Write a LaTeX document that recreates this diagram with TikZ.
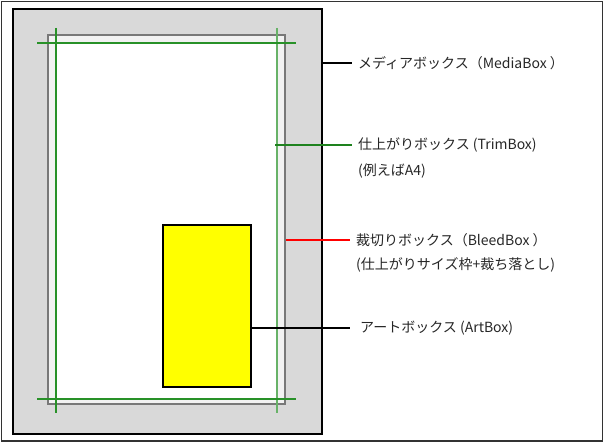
\documentclass[tikz,border=0pt]{standalone}
\usepackage{fontspec}
\setmainfont{Noto Sans CJK JP}
\definecolor{mediagray}{RGB}{217,217,217}
\definecolor{bleedfill}{RGB}{242,242,242}
\definecolor{bleedline}{RGB}{120,120,120}
\definecolor{trimgreen}{RGB}{40,145,40}
\definecolor{leadgreen}{RGB}{30,130,30}
\definecolor{artyellow}{RGB}{255,255,0}
\definecolor{bleedred}{RGB}{255,0,0}
\tikzset{
  lbl/.style={anchor=west, inner sep=0pt, font=\fontsize{14}{16}\selectfont, text=black!85},
  trimline/.style={draw=trimgreen, line width=1.3pt},
  leader/.style={line width=1.1pt}
}
\begin{document}
\begin{tikzpicture}[x=1pt,y=-1pt]
\useasboundingbox (0,0) rectangle (604,443);
% outer frame
\draw[line width=1.3pt, draw=black!80] (1.5,1.5) rectangle (602.5,441);
% MediaBox
\draw[fill=mediagray, line width=2pt, draw=black] (13,9) rectangle (322,434);
\coordinate (mediaR) at (322,63);
% BleedBox
\draw[fill=bleedfill, draw=bleedline, line width=1.6pt] (48,35) rectangle (285,404);
\coordinate (bleedR) at (286,240);
% TrimBox white area
\fill[white] (56,43) rectangle (277,399);
% trim lines
\draw[trimline] (56,28) -- (56,413);
\draw[trimline, draw=trimgreen!70] (277,28) -- (277,413);
\draw[trimline] (37,43) -- (296,43);
\draw[trimline] (37,399) -- (296,399);
\coordinate (trimR) at (275,145);
% ArtBox
\draw[fill=artyellow, line width=1.5pt, draw=black] (163,225) rectangle (251,387);
\coordinate (artR) at (251,328);
% labels
\node[lbl] (media) at (358,63) {メディアボックス（MediaBox ）};
\node[lbl] (trim) at (358,145) {仕上がりボックス (TrimBox)};
\node[lbl] (trim2) at (358,171) {(例えばA4)};
\node[lbl] (bleed) at (356,240) {裁切りボックス（BleedBox ）};
\node[lbl] (bleed2) at (356,265) {(仕上がりサイズ枠+裁ち落とし)};
\node[lbl] (art) at (360,328) {アートボックス (ArtBox)};
% leaders
\draw[leader, draw=black] (mediaR) -- ([xshift=-6pt]media.west);
\draw[leader, draw=leadgreen] (trimR) -- ([xshift=-6pt]trim.west);
\draw[leader, draw=bleedred] (bleedR) -- ([xshift=-6pt]bleed.west);
\draw[leader, draw=black] (artR) -- ([xshift=-10pt]art.west);
\end{tikzpicture}
\end{document}
